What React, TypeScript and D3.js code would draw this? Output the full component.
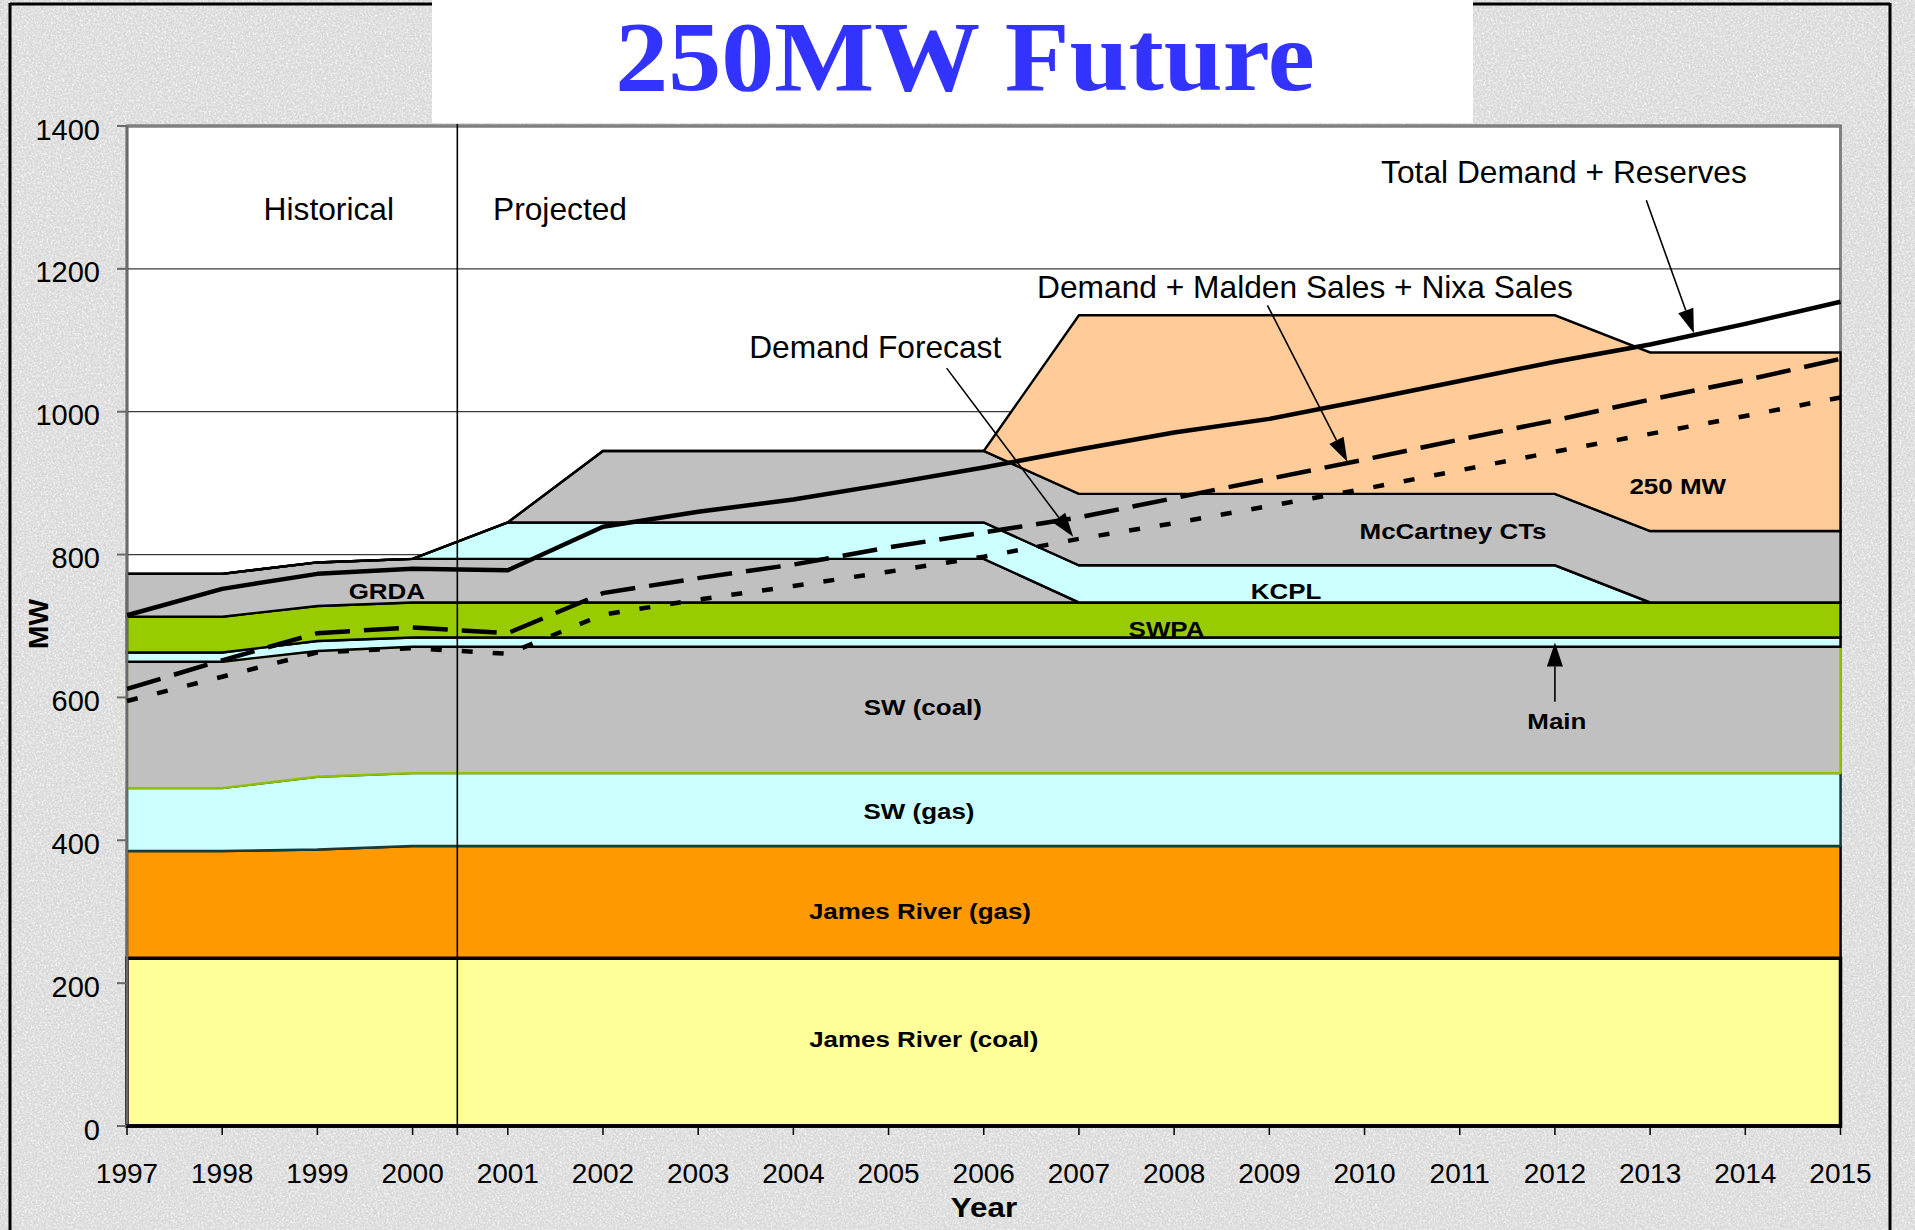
import React from "react";
import * as d3 from "d3";

// ---------- data ----------
const years = [1997, 1998, 1999, 2000, 2001, 2002, 2003, 2004, 2005, 2006, 2007, 2008, 2009, 2010, 2011, 2012, 2013, 2014, 2015];

const jamesRiverCoal = [235, 235, 235, 235, 235, 235, 235, 235, 235, 235, 235, 235, 235, 235, 235, 235, 235, 235, 235];
const jamesRiverGas = [150, 150, 152, 157, 157, 157, 157, 157, 157, 157, 157, 157, 157, 157, 157, 157, 157, 157, 157];
const swGas = [88, 88, 102, 102, 102, 102, 102, 102, 102, 102, 102, 102, 102, 102, 102, 102, 102, 102, 102];
const swCoal = [177, 177, 176, 177, 177, 177, 177, 177, 177, 177, 177, 177, 177, 177, 177, 177, 177, 177, 177];
const mainUnit = [13, 13, 14, 13, 13, 13, 13, 13, 13, 13, 13, 13, 13, 13, 13, 13, 13, 13, 13];
const swpa = [50, 50, 49, 49, 49, 49, 49, 49, 49, 49, 49, 49, 49, 49, 49, 49, 49, 49, 49];
const grda = [60, 60, 61, 61, 61, 61, 61, 61, 61, 61, 0, 0, 0, 0, 0, 0, 0, 0, 0];
const kcpl = [0, 0, 0, 0, 51, 51, 51, 51, 51, 51, 52, 52, 52, 52, 52, 52, 0, 0, 0];
const mccartney = [0, 0, 0, 0, 0, 100, 100, 100, 100, 100, 100, 100, 100, 100, 100, 100, 100, 100, 100];
const future250 = [0, 0, 0, 0, 0, 0, 0, 0, 0, 0, 250, 250, 250, 250, 250, 250, 250, 250, 250];

const totalDemandReserves = [715, 752, 773, 780, 778, 839, 860, 877, 899, 922, 947, 971, 990, 1016, 1043, 1070, 1094, 1123, 1154];
const demandMaldenNixa = [612, 652, 690, 698, 690, 746, 767, 786, 810, 831, 852, 879, 906, 933, 961, 988, 1017, 1044, 1074];
const demandForecast = [595, 629, 663, 669, 661, 716, 737, 756, 776, 797, 822, 844, 868, 892, 918, 944, 969, 994, 1020];

const yTicks = [0, 200, 400, 600, 800, 1000, 1200, 1400];
const gridValues = [200, 400, 600, 800, 1000, 1200, 1400];

const seriesKeys = ["jrCoal", "jrGas", "swGas", "swCoal", "main", "swpa", "grda", "kcpl", "mccartney", "f250"];
const seriesValues: Record<string, number[]> = {
  jrCoal: jamesRiverCoal,
  jrGas: jamesRiverGas,
  swGas: swGas,
  swCoal: swCoal,
  main: mainUnit,
  swpa: swpa,
  grda: grda,
  kcpl: kcpl,
  mccartney: mccartney,
  f250: future250,
};
const seriesFill: Record<string, string> = {
  jrCoal: "#FFFF99",
  jrGas: "#FF9900",
  swGas: "#CCFFFF",
  swCoal: "#C0C0C0",
  main: "#CCFFFF",
  swpa: "#99CC00",
  grda: "#C0C0C0",
  kcpl: "#CCFFFF",
  mccartney: "#C0C0C0",
  f250: "#FFCC99",
};
const seriesStroke: Record<string, string> = {
  jrCoal: "#000",
  jrGas: "#000",
  swGas: "#1a3a3a",
  swCoal: "#8fbf00",
  main: "#000",
  swpa: "#000",
  grda: "#000",
  kcpl: "#000",
  mccartney: "#000",
  f250: "#000",
};

// annotation labels in data space: [year, MW]
const boldLabels = [
  { t: "250 MW", yr: 2013.29, v: 885 },
  { t: "McCartney CTs", yr: 2010.93, v: 822 },
  { t: "KCPL", yr: 2009.175, v: 738 },
  { t: "SWPA", yr: 2007.92, v: 685 },
  { t: "GRDA", yr: 1999.73, v: 738 },
  { t: "SW (coal)", yr: 2005.36, v: 575 },
  { t: "SW (gas)", yr: 2005.32, v: 430 },
  { t: "James River (gas)", yr: 2005.33, v: 290 },
  { t: "James River (coal)", yr: 2005.37, v: 111 },
  { t: "Main", yr: 2012.02, v: 556 },
];

const plainLabels = [
  { t: "Historical", yr: 1999.12, v: 1268, anchor: "middle" },
  { t: "Projected", yr: 2000.845, v: 1268, anchor: "start" },
  { t: "Total Demand + Reserves", yr: 2012.095, v: 1320, anchor: "middle" },
  { t: "Demand + Malden Sales + Nixa Sales", yr: 2009.375, v: 1159, anchor: "middle" },
  { t: "Demand Forecast", yr: 2004.86, v: 1075, anchor: "middle" },
];

const arrows = [
  { from: [2012.96, 1296], to: [2013.46, 1110] },
  { from: [2008.98, 1149], to: [2009.82, 930] },
  { from: [2005.61, 1061], to: [2006.94, 825] },
  { from: [2012.0, 594], to: [2012.0, 677] },
];

const dividerYear = 2000.47;

// ---------- component ----------
const W = 1915;
const H = 1230;
const FONT = "'Liberation Sans', Arial, Helvetica, sans-serif";

export default function App() {
  const x = d3.scaleLinear().domain([1997, 2015]).range([127, 1840.5]);
  const y = d3.scaleLinear().domain([0, 1400]).range([1126, 126]);

  const rows = years.map((yr, i) => {
    const r: any = { year: yr };
    seriesKeys.forEach((k) => (r[k] = seriesValues[k][i]));
    return r;
  });
  const stacked = d3.stack<any>().keys(seriesKeys)(rows);
  const area = d3
    .area<any>()
    .x((d) => x(d.data.year))
    .y0((d) => y(d[0]))
    .y1((d) => y(d[1]));

  const line = d3
    .line<number>()
    .x((_, i) => x(years[i]))
    .y((d) => y(d));

  const plotL = x(1997);
  const plotR = x(2015);
  const plotT = y(1400);
  const plotB = y(0);

  const arrowShapes = arrows.map((a, i) => {
    const x1 = x(a.from[0]);
    const y1 = y(a.from[1]);
    const x2 = x(a.to[0]);
    const y2 = y(a.to[1]);
    const ang = Math.atan2(y2 - y1, x2 - x1);
    const len = 24;
    const hw = 8;
    const bx = x2 - len * Math.cos(ang);
    const by = y2 - len * Math.sin(ang);
    const px = -Math.sin(ang) * hw;
    const py = Math.cos(ang) * hw;
    return (
      <g key={"ar" + i}>
        <line x1={x1} y1={y1} x2={bx} y2={by} stroke="#000" strokeWidth={1.6} />
        <polygon points={`${x2},${y2} ${bx + px},${by + py} ${bx - px},${by - py}`} fill="#000" />
      </g>
    );
  });

  return (
    <svg
      width={W}
      height={H}
      viewBox={`0 0 ${W} ${H}`}
      style={{ position: "absolute", left: 0, top: 0, display: "block" }}
    >
      <defs>
        <filter id="marbleDark" x="0" y="0" width="100%" height="100%">
          <feTurbulence type="fractalNoise" baseFrequency="0.55" numOctaves="3" seed="7" />
          <feColorMatrix
            type="matrix"
            values="0 0 0 0 0.6  0 0 0 0 0.6  0 0 0 0 0.6  1.6 0 0 0 -0.62"
          />
        </filter>
        <filter id="marbleLight" x="0" y="0" width="100%" height="100%">
          <feTurbulence type="fractalNoise" baseFrequency="0.45" numOctaves="2" seed="19" />
          <feColorMatrix
            type="matrix"
            values="0 0 0 0 1  0 0 0 0 1  0 0 0 0 1  1.8 0 0 0 -0.7"
          />
        </filter>
      </defs>

      {/* background */}
      <rect x={0} y={0} width={W} height={H} fill="#dedede" />
      <rect x={0} y={0} width={W} height={H} filter="url(#marbleLight)" />
      <rect x={0} y={0} width={W} height={H} filter="url(#marbleDark)" />

      {/* outer frame */}
      <line x1={10} y1={4} x2={1890} y2={4} stroke="#000" strokeWidth={3} />
      <line x1={10} y1={3} x2={10} y2={H} stroke="#000" strokeWidth={3} />
      <line x1={1890} y1={3} x2={1890} y2={H} stroke="#000" strokeWidth={3} />

      {/* title box */}
      <rect x={432} y={0} width={1041} height={123} fill="#fff" />
      <text
        transform="translate(965,90) scale(1.06,1)"
        textAnchor="middle"
        fontFamily="'Liberation Serif', 'Times New Roman', serif"
        fontWeight="bold"
        fontSize={100}
        fill="#3333FF"
      >
        250MW Future
      </text>

      {/* plot background */}
      <rect x={plotL} y={plotT} width={plotR - plotL} height={plotB - plotT} fill="#fff" stroke="#808080" strokeWidth={3} />

      {/* grid */}
      {gridValues.map((v) => (
        <line key={"g" + v} x1={plotL} x2={plotR} y1={y(v)} y2={y(v)} stroke="#3a3a3a" strokeWidth={1.3} />
      ))}
      <line x1={plotL} x2={plotR} y1={plotT} y2={plotT} stroke="#808080" strokeWidth={3} />

      {/* stacked areas */}
      {stacked.map((s) => (
        <path
          key={s.key}
          d={area(s) || ""}
          fill={seriesFill[s.key]}
          stroke={seriesStroke[s.key]}
          strokeWidth={s.key === "jrCoal" ? 3.5 : 2.4}
          strokeLinejoin="miter"
        />
      ))}
      {/* James River boundary emphasised */}
      <path
        d={line(years.map((_, i) => jamesRiverCoal[i])) || ""}
        fill="none"
        stroke="#000"
        strokeWidth={3.5}
      />

      {/* axes */}
      <line x1={plotL} x2={plotL} y1={plotT} y2={plotB} stroke="#6a6a6a" strokeWidth={2.5} />
      <line x1={plotL - 1} x2={plotR + 1.5} y1={plotB} y2={plotB} stroke="#000" strokeWidth={3.5} />

      {/* divider */}
      <line x1={x(dividerYear)} x2={x(dividerYear)} y1={plotT - 2} y2={plotB + 9} stroke="#000" strokeWidth={1.6} />

      {/* y ticks */}
      {yTicks.map((v) => (
        <g key={"yt" + v}>
          <line x1={plotL - 10} x2={plotL} y1={y(v)} y2={y(v)} stroke="#6a6a6a" strokeWidth={2} />
          <text x={100} y={y(v) + 13.5} textAnchor="end" fontFamily={FONT} fontSize={29} fill="#000">
            {v}
          </text>
        </g>
      ))}

      {/* x ticks */}
      {years.map((yr) => (
        <g key={"xt" + yr}>
          <line x1={x(yr)} x2={x(yr)} y1={plotB} y2={plotB + 9} stroke="#000" strokeWidth={1.5} />
          <text x={x(yr)} y={1183} textAnchor="middle" fontFamily={FONT} fontSize={28} fill="#000">
            {yr}
          </text>
        </g>
      ))}

      {/* axis titles */}
      <text
        transform={`translate(984,1217) scale(1.12,1)`}
        textAnchor="middle"
        fontFamily={FONT}
        fontWeight="bold"
        fontSize={28}
      >
        Year
      </text>
      <text
        transform={`translate(48,624) rotate(-90)`}
        textAnchor="middle"
        fontFamily={FONT}
        fontWeight="bold"
        fontSize={28}
      >
        MW
      </text>

      {/* demand lines */}
      <path d={line(demandForecast) || ""} fill="none" stroke="#000" strokeWidth={4.5} strokeDasharray="11 20" />
      <path d={line(demandMaldenNixa) || ""} fill="none" stroke="#000" strokeWidth={4.5} strokeDasharray="35 14" />
      <path d={line(totalDemandReserves) || ""} fill="none" stroke="#000" strokeWidth={4.5} strokeLinejoin="round" />

      {/* arrows */}
      {arrowShapes}

      {/* labels */}
      {plainLabels.map((l) => (
        <text
          key={l.t}
          transform={`translate(${x(l.yr)},${y(l.v)}) scale(1.04,1)`}
          textAnchor={l.anchor as any}
          fontFamily={FONT}
          fontSize={30.5}
          fill="#000"
        >
          {l.t}
        </text>
      ))}
      {boldLabels.map((l) => (
        <text
          key={l.t}
          transform={`translate(${x(l.yr)},${y(l.v)}) scale(1.18,1)`}
          textAnchor="middle"
          fontFamily={FONT}
          fontWeight="bold"
          fontSize={22}
          fill="#000"
        >
          {l.t}
        </text>
      ))}
    </svg>
  );
}
